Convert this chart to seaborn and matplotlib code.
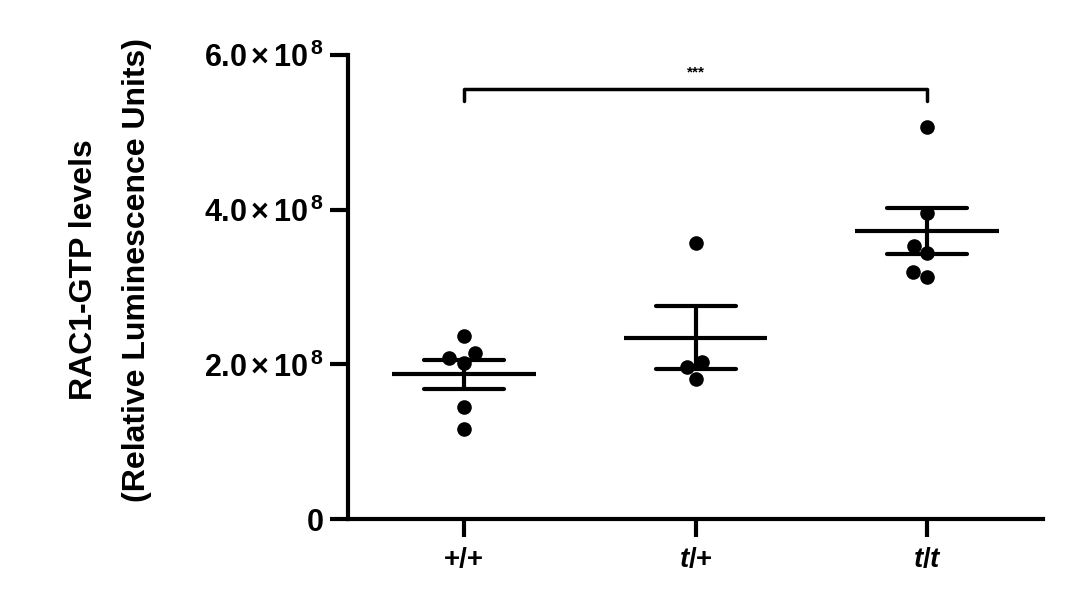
import matplotlib
matplotlib.use("Agg")
import matplotlib.pyplot as plt
import seaborn as sns
import pandas as pd
import numpy as np
from matplotlib.ticker import FuncFormatter

# values, units of 1e8 RLU
genotypes = ['+/+', 't/+', 't/t']
wt_vals = [2.37, 2.15, 2.08, 2.02, 1.45, 1.16]
het_vals = [3.57, 2.03, 1.97, 1.81]
hom_vals = [5.07, 3.96, 3.53, 3.44, 3.20, 3.13]
tick_labels = ['+/+', r'$\mathbfit{t}$/+', r'$\mathbfit{t}$/$\mathbfit{t}$']
yticks = [0, 2e8, 4e8, 6e8]
sig_label = '***'

sns.set_theme(style="white")
plt.rcParams['font.family'] = ['Liberation Sans', 'DejaVu Sans']
plt.rcParams['text.color'] = 'black'
plt.rcParams['axes.labelcolor'] = 'black'
plt.rcParams['xtick.color'] = 'black'
plt.rcParams['ytick.color'] = 'black'
plt.rcParams['mathtext.fontset'] = 'custom'
plt.rcParams['mathtext.rm'] = 'Liberation Sans:bold'
plt.rcParams['mathtext.bf'] = 'Liberation Sans:bold'
plt.rcParams['mathtext.it'] = 'Liberation Sans:italic:bold'
plt.rcParams['mathtext.bfit'] = 'Liberation Sans:italic:bold'

rows = []
for g, vals in zip(genotypes, [wt_vals, het_vals, hom_vals]):
    for v in vals:
        rows.append({'genotype': g, 'rlu': v * 1e8})
df = pd.DataFrame(rows)

fig = plt.figure(figsize=(10.8, 6.01), dpi=100)
ax = fig.add_axes([0.322, 0.1364, 0.644, 0.772])

sns.swarmplot(data=df, x='genotype', y='rlu', order=genotypes, color='black',
              size=10.5, ax=ax, zorder=3)
sns.pointplot(data=df, x='genotype', y='rlu', order=genotypes, errorbar='se',
              capsize=0.345, linestyle='none', marker='', color='black',
              err_kws={'linewidth': 3}, ax=ax, zorder=4)

# mean bars
means = df.groupby('genotype', sort=False)['rlu'].mean().reindex(genotypes)
pos = np.arange(len(genotypes))
ax.hlines(means.values, pos - 0.31, pos + 0.31, color='black', linewidth=3, zorder=4)

# significance bracket +/+ vs t/t
bracket_y = 5.56e8
drop = 0.15e8
ax.plot([0, 0, 2, 2], [bracket_y - drop, bracket_y, bracket_y, bracket_y - drop],
        color='black', linewidth=2.5, solid_joinstyle='round', clip_on=False)
ax.text(1, bracket_y + 0.13e8, sig_label, ha='center', va='bottom', fontsize=11,
        fontweight='bold')

ax.set_xlim(-0.5, 2.5)
ax.set_ylim(0, 6e8)
ax.set_yticks(yticks)
ax.yaxis.set_major_formatter(FuncFormatter(
    lambda v, p: '0' if v == 0 else
    r'$\mathbf{%.1f}\,{\times}\,\mathbf{10}^{\,\mathbf{8}}$' % (v / 1e8)))
ax.set_xticks(pos)
ax.set_xticklabels(tick_labels, fontsize=20, fontweight='bold')
for lab in ax.get_yticklabels():
    lab.set_fontsize(22)
    lab.set_fontweight('bold')

ax.set_xlabel('')
ax.set_ylabel('RAC1-GTP levels\n(Relative Luminescence Units)', fontsize=23,
              fontweight='bold', linespacing=2.0)
ax.yaxis.set_label_coords(-0.282, 0.537)

sns.despine(ax=ax)
for s in ['left', 'bottom']:
    ax.spines[s].set_linewidth(3)
    ax.spines[s].set_color('black')
ax.tick_params(axis='both', direction='out', length=13, width=3, color='black',
               left=True, bottom=True)
ax.tick_params(axis='y', pad=4)
ax.tick_params(axis='x', pad=7)

fig.savefig('out.png', dpi=100)
